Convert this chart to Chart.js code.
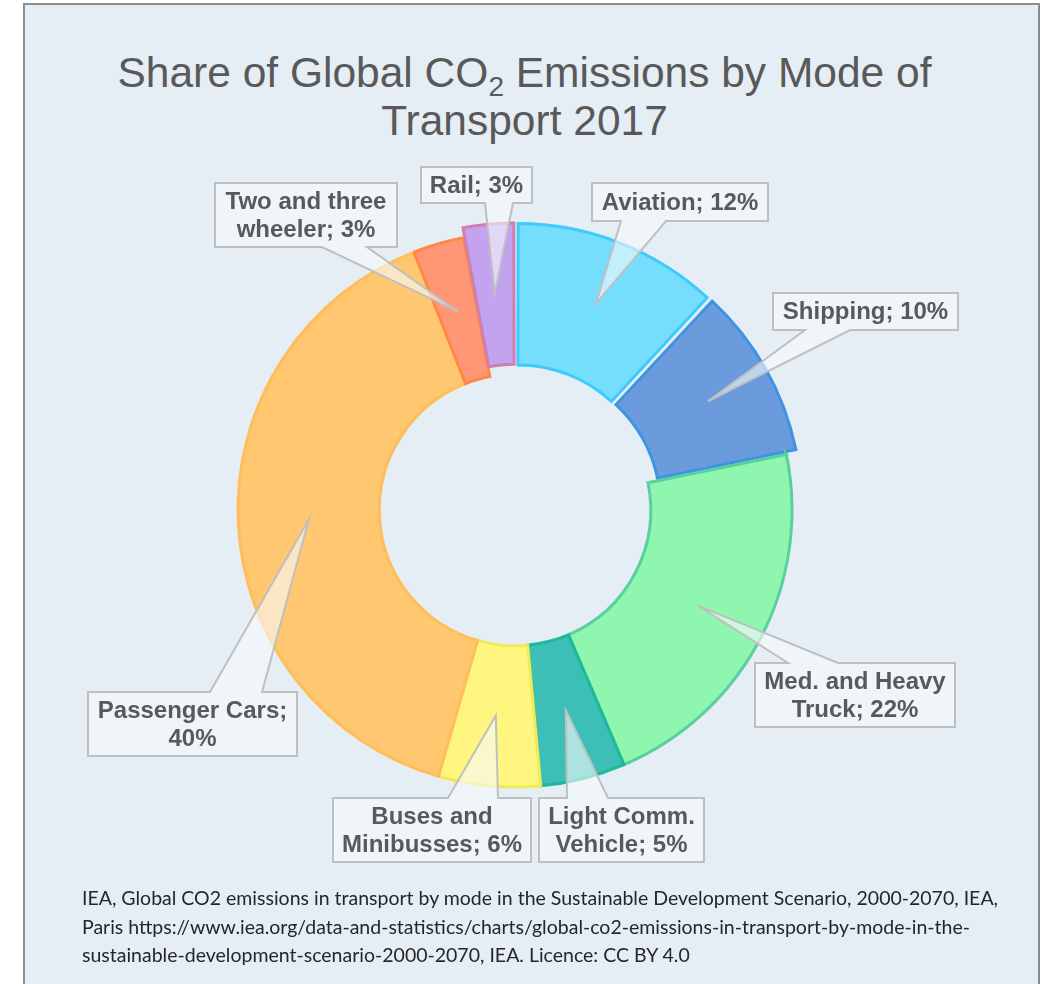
<!DOCTYPE html>
<html>
<head>
<meta charset="utf-8">
<title>Share of Global CO2 Emissions by Mode of Transport 2017</title>
<script src="https://cdn.jsdelivr.net/npm/chart.js@4/dist/chart.umd.min.js"></script>
<style>
    html, body {
        margin: 0;
        padding: 0;
        background: #ffffff;
        width: 1046px;
        height: 984px;
        overflow: hidden;
    }
    #frame {
        position: absolute;
        left: 23px;
        top: 3px;
        width: 1013px;
        height: 1000px;
        border: 2px solid #8c8c8c;
        background: #e6eef5;
    }
    #chartTitle {
        position: absolute;
        left: 0;
        top: 49px;
        width: 1049px;
        text-align: center;
        font-family: "Liberation Sans", Arial, sans-serif;
        font-size: 42.5px;
        line-height: 48px;
        color: #595959;
    }
    #chartTitle sub {
        font-size: 28px;
        line-height: 0;
        vertical-align: -9px;
    }
    #chartCanvas {
        position: absolute;
        left: 0;
        top: 0;
    }
    #source {
        position: absolute;
        left: 82px;
        top: 884px;
        font-family: Lato, "Open Sans", sans-serif;
        font-size: 19.5px;
        line-height: 28.5px;
        color: #262626;
        white-space: nowrap;
    }
</style>
</head>
<body>
<div id="frame"></div>
<div id="chartTitle">Share of Global CO<sub>2</sub> Emissions by Mode of<br>Transport 2017</div>
<canvas id="chartCanvas" width="1046" height="984"></canvas>
<div id="source">IEA, Global CO2 emissions in transport by mode in the Sustainable Development Scenario, 2000-2070, IEA,<br>Paris https://www.iea.org/data-and-statistics/charts/global-co2-emissions-in-transport-by-mode-in-the-<br>sustainable-development-scenario-2000-2070, IEA. Licence: CC BY 4.0</div>

<script>
// Transport modes and their share of CO2 emissions (%), clockwise from the top
const categories = ['Aviation', 'Shipping', 'Med. and Heavy Truck', 'Light Comm. Vehicle',
    'Buses and Minibusses', 'Passenger Cars', 'Two and three wheeler', 'Rail'];
const shares = [12, 10, 22, 5, 6, 40, 3, 3];

const fillColors = ['#76defd', '#6b9bdc', '#8ff6af', '#3cbfb6', '#fff680', '#ffc870', '#ff9675', '#c3a3f0'];
const edgeColors = ['#3ccbfb', '#3c94e2', '#5acfa0', '#1db99b', '#efea55', '#ffbd5c', '#ff8845', '#d07fb0'];
// exploded slices (Chart.js moves an arc out by about half its offset)
const pulledOut = [30, 30, 0, 0, 0, 0, 0, 22];

// Callout boxes: box rect, which edge the pointer leaves from, pointer base span, words on first line
const callouts = [
    { x: 592, y: 183, w: 176, h: 38, side: 'bottom', b1: 621, b2: 666, wrap: 0 },
    { x: 773, y: 293, w: 185, h: 37, side: 'bottom', b1: 805, b2: 850, wrap: 0 },
    { x: 755, y: 663, w: 200, h: 64, side: 'top', b1: 788, b2: 838, wrap: 3 },
    { x: 539, y: 798, w: 165, h: 64, side: 'top', b1: 567, b2: 608, wrap: 2 },
    { x: 333, y: 798, w: 198, h: 64, side: 'top', b1: 448, b2: 498, wrap: 2 },
    { x: 88, y: 692, w: 209, h: 64, side: 'top', b1: 210, b2: 262, wrap: 2 },
    { x: 215, y: 183, w: 182, h: 64, side: 'bottom', b1: 322, b2: 367, wrap: 3 },
    { x: 421, y: 167, w: 111, h: 36, side: 'bottom', b1: 485, b2: 513, wrap: 0 }
];

function labelLines(i) {
    const words = `${categories[i]}; ${shares[i]}%`.split(' ');
    const n = callouts[i].wrap;
    if (!n) return [words.join(' ')];
    return [words.slice(0, n).join(' '), words.slice(n).join(' ')];
}

// Pointer tip sits in the middle of each ring segment
function segmentCentre(arc) {
    const mid = (arc.startAngle + arc.endAngle) / 2;
    const r = (arc.innerRadius + arc.outerRadius) / 2 + (arc.options.offset || 0) / 2;
    return { x: arc.x + Math.cos(mid) * r, y: arc.y + Math.sin(mid) * r };
}

const calloutPlugin = {
    id: 'callouts',
    afterDatasetsDraw(chart) {
        const ctx = chart.ctx;
        const arcs = chart.getDatasetMeta(0).data;
        ctx.save();
        arcs.forEach((arc, i) => {
            const c = callouts[i];
            const tip = segmentCentre(arc);
            const right = c.x + c.w;
            const bottom = c.y + c.h;

            ctx.beginPath();
            ctx.moveTo(c.x, c.y);
            if (c.side === 'top') {
                ctx.lineTo(c.b1, c.y);
                ctx.lineTo(tip.x, tip.y);
                ctx.lineTo(c.b2, c.y);
            }
            ctx.lineTo(right, c.y);
            ctx.lineTo(right, bottom);
            if (c.side === 'bottom') {
                ctx.lineTo(c.b2, bottom);
                ctx.lineTo(tip.x, tip.y);
                ctx.lineTo(c.b1, bottom);
            }
            ctx.lineTo(c.x, bottom);
            ctx.closePath();
            ctx.fillStyle = 'rgba(246, 250, 252, 0.6)';
            ctx.fill();
            ctx.lineWidth = 2;
            ctx.lineJoin = 'miter';
            ctx.strokeStyle = '#bfbfbf';
            ctx.stroke();

            const lines = labelLines(i);
            const lineGap = 28;
            const cx = c.x + c.w / 2;
            const cy = c.y + c.h / 2 - (lines.length - 1) * lineGap / 2;
            ctx.fillStyle = '#595959';
            ctx.font = 'bold 24px "Liberation Sans", Arial, sans-serif';
            ctx.textAlign = 'center';
            ctx.textBaseline = 'middle';
            lines.forEach((line, k) => {
                ctx.fillText(line, cx, cy + k * lineGap + 1);
            });
        });
        ctx.restore();
    }
};

const ctx = document.getElementById('chartCanvas').getContext('2d');

new Chart(ctx, {
    type: 'doughnut',
    data: {
        labels: categories,
        datasets: [{
            data: shares,
            backgroundColor: fillColors,
            borderColor: edgeColors,
            borderWidth: 3,
            borderJoinStyle: 'miter',
            offset: pulledOut
        }]
    },
    options: {
        responsive: false,
        animation: false,
        radius: 277,
        cutout: '49%',
        layout: {
            padding: { left: 0, right: 16, top: 36, bottom: 0 }
        },
        plugins: {
            legend: { display: false },
            tooltip: { enabled: false }
        }
    },
    plugins: [calloutPlugin]
});
</script>
</body>
</html>
